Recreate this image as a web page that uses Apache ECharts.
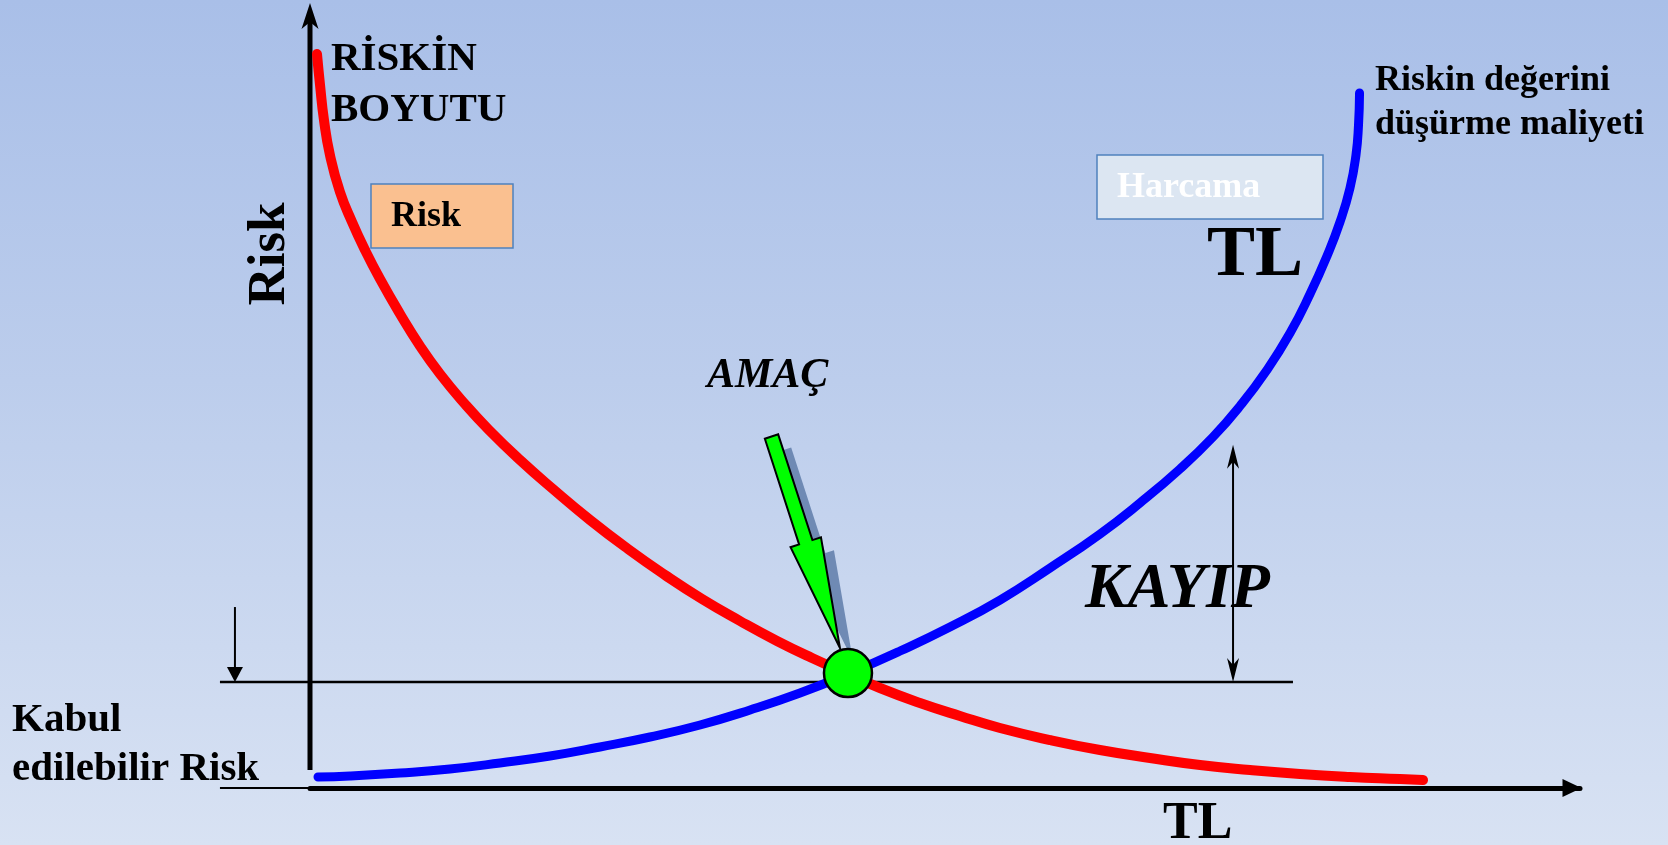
<!DOCTYPE html>
<html>
<head>
<meta charset="utf-8">
<script src="https://cdn.jsdelivr.net/npm/echarts@6/dist/echarts.min.js"></script>
<style>
html,body{margin:0;padding:0;overflow:hidden;}
#c{width:1668px;height:845px;background:linear-gradient(180deg,#a9bfe8 0%,#bccdec 45%,#d8e2f3 100%);}
</style>
</head>
<body>
<div id="c"></div>
<script>
// ---- data (x: TL / spending, y: risk) ----
const riskCurve = [
  [0.55,94.10],[0.79,90.13],[1.10,85.64],[1.57,81.15],[2.36,76.41],[3.31,72.56],[4.33,68.97],
  [5.51,65.26],[7.09,60.77],[8.66,56.67],[10.24,53.08],[12.20,49.23],[14.09,45.90],[16.54,42.05],
  [19.13,38.33],[22.05,34.36],[25.04,30.64],[27.95,27.31],[30.87,24.23],[33.86,21.41],[36.77,18.85],
  [39.53,16.67],[42.36,14.62],[44.88,12.82],[48.03,10.90],[51.18,9.23],[54.33,7.69],[58.27,6.15],
  [62.20,4.87],[66.14,3.85],[70.08,2.95],[74.02,2.31],[77.95,1.79],[81.89,1.41],[85.83,1.15],[87.64,1.03]
];
const costCurve = [
  [0.63,1.41],[3.15,1.54],[7.09,1.92],[11.02,2.44],[14.96,3.21],[18.90,4.10],[22.83,5.26],
  [26.77,6.54],[30.71,8.08],[34.65,10.00],[38.58,12.18],[42.36,14.62],[46.46,17.56],[50.39,20.64],
  [54.33,24.10],[58.27,28.21],[62.20,32.56],[65.35,36.54],[68.50,40.90],[71.10,45.00],[73.23,48.97],
  [75.35,53.59],[77.17,58.33],[78.74,63.33],[80.08,68.21],[81.10,72.56],[81.89,76.92],[82.36,81.15],
  [82.56,85.00],[82.64,89.10]
];
const optimum = [42.36, 14.74];
const acceptableRisk = 13.6;
const acceptableLineX = [-7.09, 77.4];
const acceptableArrow = { x: -5.91, top: 23.2 };
const lossArrow = { x: 72.68, top: 44.0 };
const goalArrow = { tail: [36.34, 45.06], tip: [41.73, 17.95] };
const axisStubX = [-7.09, 0];
const riskAxisRange = [2.31, 100.64];

const SERIF = '"Liberation Serif","Times New Roman",serif';

function headPts(tip, dir, len, w, notch) {
  const n = [-dir[1], dir[0]];
  const b = [tip[0] - dir[0] * len, tip[1] - dir[1] * len];
  const pts = [tip, [b[0] + n[0] * w / 2, b[1] + n[1] * w / 2]];
  if (notch) pts.push([tip[0] - dir[0] * (len - notch), tip[1] - dir[1] * (len - notch)]);
  pts.push([b[0] - n[0] * w / 2, b[1] - n[1] * w / 2]);
  return pts;
}

function renderAnnotations(params, api) {
  const c = v => api.coord(v);
  const ch = [];
  // vertical risk axis (stops short of the TL axis)
  const y1 = c([0, riskAxisRange[0]]), y2 = c([0, riskAxisRange[1]]);
  ch.push({type:'line', shape:{x1:y1[0],y1:y1[1],x2:y2[0],y2:y2[1]+14}, style:{stroke:'#000',lineWidth:5}});
  ch.push({type:'polygon', shape:{points:headPts(y2,[0,-1],26,17,7)}, style:{fill:'#000'}});
  // acceptable risk line
  const a1 = c([acceptableLineX[0], acceptableRisk]), a2 = c([acceptableLineX[1], acceptableRisk]);
  ch.push({type:'line', shape:{x1:a1[0],y1:a1[1],x2:a2[0],y2:a2[1]}, style:{stroke:'#000',lineWidth:2.5}});
  // stub under "Risk"
  const s1 = c([axisStubX[0], 0]), s2 = c([axisStubX[1], 0]);
  ch.push({type:'line', shape:{x1:s1[0],y1:s1[1],x2:s2[0],y2:s2[1]}, style:{stroke:'#000',lineWidth:2}});
  // small down arrow
  const d1 = c([acceptableArrow.x, acceptableArrow.top]), d2 = c([acceptableArrow.x, acceptableRisk]);
  ch.push({type:'line', shape:{x1:d1[0],y1:d1[1],x2:d2[0],y2:d2[1]-12}, style:{stroke:'#000',lineWidth:2}});
  ch.push({type:'polygon', shape:{points:headPts(d2,[0,1],15,16,0)}, style:{fill:'#000'}});
  // KAYIP double arrow
  const k1 = c([lossArrow.x, lossArrow.top]), k2 = c([lossArrow.x, acceptableRisk]);
  ch.push({type:'line', shape:{x1:k1[0],y1:k1[1]+8,x2:k2[0],y2:k2[1]-8}, style:{stroke:'#000',lineWidth:2}});
  ch.push({type:'polygon', shape:{points:headPts(k1,[0,-1],24,12,7)}, style:{fill:'#000'}});
  ch.push({type:'polygon', shape:{points:headPts(k2,[0,1],24,12,7)}, style:{fill:'#000'}});
  // green goal arrow
  const T = c(goalArrow.tail), P = c(goalArrow.tip);
  const L = Math.hypot(P[0]-T[0], P[1]-T[1]);
  const u = [(P[0]-T[0])/L, (P[1]-T[1])/L], n = [-u[1], u[0]];
  const sw = 7, hw = 16, hd = L * 0.5;
  const at = (d, o) => [T[0]+u[0]*d+n[0]*o, T[1]+u[1]*d+n[1]*o];
  const arrow = [at(0,-sw), at(hd,-sw), at(hd,-hw), P, at(hd,hw), at(hd,sw), at(0,sw)];
  const shadow = arrow.map(p => [p[0]+13, p[1]+13]);
  ch.push({type:'polygon', shape:{points:shadow}, style:{fill:'#6f8ab4'}});
  ch.push({type:'polygon', shape:{points:arrow}, style:{fill:'#00ff00', stroke:'#000', lineWidth:2, lineJoin:'miter'}});
  return {type:'group', children: ch};
}

function txt(text, x, y, size, opts) {
  opts = opts || {};
  const weight = opts.italic ? 'italic bold ' : 'bold ';
  return {
    type:'text', x:x, y:y, rotation: opts.rotation || 0, z: 20,
    style:{
      text:text, x:0, y:0,
      font: weight + size + 'px ' + SERIF,
      fill: opts.fill || '#000',
      align: opts.align || 'left', textAlign: opts.align || 'left',
      verticalAlign:'middle', textVerticalAlign:'middle'
    }
  };
}
const K = 0.3375;
function tb(text, x, baseline, size, opts) { return txt(text, x, baseline - K * size, size, opts); }

const chart = echarts.init(document.getElementById('c'), null, {renderer:'canvas'});
chart.setOption({
  animation:false,
  grid:{left:310, right:88, top:8, bottom:57, outerBoundsMode:'none'},
  xAxis:{type:'value', min:0, max:100,
    axisLine:{show:true, onZero:true, lineStyle:{color:'#000', width:5}, symbol:['none','triangle'], symbolSize:[18,19], symbolOffset:[0,-8]},
    axisTick:{show:false}, axisLabel:{show:false}, splitLine:{show:false}},
  yAxis:{type:'value', min:0, max:100,
    axisLine:{show:false},
    axisTick:{show:false}, axisLabel:{show:false}, splitLine:{show:false}},
  series:[
    {type:'custom', name:'annotations', data:[[0,0]], clip:false, silent:true, z:2, renderItem:renderAnnotations},
    {type:'line', name:'Risk', data:riskCurve, smooth:0.5, showSymbol:false, symbol:'none', z:3,
      lineStyle:{color:'#ff0000', width:10, cap:'round', join:'round'}},
    {type:'line', name:'Harcama', data:costCurve, smooth:0.5, showSymbol:false, symbol:'none', z:3,
      lineStyle:{color:'#0000ff', width:9, cap:'round', join:'round'}},
    {type:'scatter', name:'AMAÇ', data:[optimum], symbolSize:48, z:6,
      itemStyle:{color:'#00ff00', borderColor:'#000', borderWidth:2.5, opacity:1}}
  ],
  graphic:[
    {type:'rect', z:15, shape:{x:371, y:184, width:142, height:64}, style:{fill:'#fac090', stroke:'#4f81bd', lineWidth:1.5}},
    {type:'rect', z:15, shape:{x:1097, y:155, width:226, height:64}, style:{fill:'#dce6f2', stroke:'#4f81bd', lineWidth:1.5}},
    tb('RİSKİN', 331, 73, 41),
    tb('BOYUTU', 331, 124, 41),
    tb('Risk', 391, 229, 36),
    txt('Risk', 270, 254, 53, {rotation: Math.PI/2, align:'center'}),
    tb('Riskin değerini', 1375, 93, 36),
    tb('düşürme maliyeti', 1375, 137, 36),
    tb('Harcama', 1117, 200, 36, {fill:'#ffffff'}),
    tb('TL', 1207, 281, 72),
    tb('AMAÇ', 707, 390, 42, {italic:true}),
    tb('KAYIP', 1085, 612, 64, {italic:true}),
    tb('Kabul', 12, 734, 41),
    tb('edilebilir Risk', 12, 783, 41),
    tb('TL', 1163, 842, 52)
  ]
});
</script>
</body>
</html>
